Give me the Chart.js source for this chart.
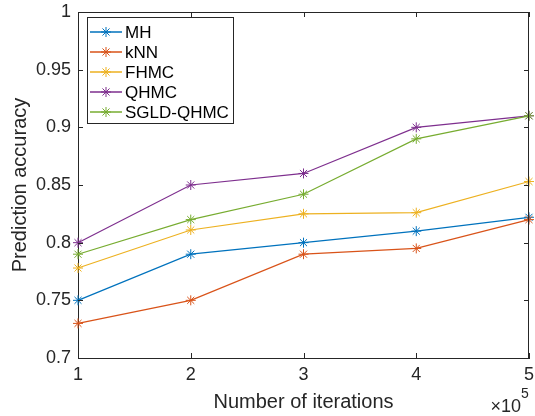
<!DOCTYPE html>
<html>
<head>
<meta charset="utf-8">
<script src="https://cdn.jsdelivr.net/npm/chart.js@4"></script>
<style>
  html, body { margin: 0; padding: 0; background: #fff; }
  canvas { display: block; }
</style>
</head>
<body>
<canvas id="chart" width="535" height="416"></canvas>
<script>
// x positions, in units of 1e5 iterations
const iterations = ['1', '2', '3', '4', '5'];
const yTicks = [0.7, 0.75, 0.8, 0.85, 0.9, 0.95, 1];

const seriesNames = ['MH', 'kNN', 'FHMC', 'QHMC', 'SGLD-QHMC'];
const mhAcc   = [0.750, 0.790, 0.800, 0.810, 0.822];
const knnAcc  = [0.730, 0.750, 0.790, 0.795, 0.820];
const fhmcAcc = [0.778, 0.811, 0.825, 0.826, 0.853];
const qhmcAcc = [0.800, 0.850, 0.860, 0.900, 0.910];
const sgldAcc = [0.790, 0.820, 0.842, 0.890, 0.910];

// MATLAB default line colours
const colors = ['#0072BD', '#D95319', '#EDB120', '#7E2F8E', '#77AC30'];
const allSeries = [mhAcc, knnAcc, fhmcAcc, qhmcAcc, sgldAcc];

const AXIS = '#262626';
const FONT = '"Liberation Sans", Arial, Helvetica, sans-serif';

Chart.defaults.font.family = FONT;
Chart.defaults.color = AXIS;

const datasets = allSeries.map((vals, i) => ({
  label: seriesNames[i],
  data: vals,
  borderColor: colors[i],
  backgroundColor: colors[i],
  borderWidth: 1.2,
  pointStyle: 'star',
  pointRadius: 5,
  pointBorderWidth: 1,
  pointBorderColor: colors[i],
  tension: 0,
  clip: false,
  order: allSeries.length - i   // later series on top, like MATLAB
}));

// inward ticks on all four sides + top/right box lines, legend inside the axes
const matlabAxes = {
  id: 'matlabAxes',
  afterDatasetsDraw(chart) {
    const { ctx, chartArea: a, scales } = chart;
    const tl = 5;
    ctx.save();
    ctx.strokeStyle = AXIS;
    ctx.lineWidth = 1;
    ctx.beginPath();
    // box
    ctx.moveTo(a.left, a.top + 0.5);
    ctx.lineTo(a.right, a.top + 0.5);
    ctx.moveTo(a.right - 0.5, a.top);
    ctx.lineTo(a.right - 0.5, a.bottom);
    iterations.forEach((_, i) => {
      const x = Math.round(scales.x.getPixelForValue(i)) + 0.5;
      ctx.moveTo(x, a.bottom); ctx.lineTo(x, a.bottom - tl);
      ctx.moveTo(x, a.top); ctx.lineTo(x, a.top + tl);
    });
    yTicks.forEach(v => {
      const y = Math.round(scales.y.getPixelForValue(v)) + 0.5;
      ctx.moveTo(a.left, y); ctx.lineTo(a.left + tl, y);
      ctx.moveTo(a.right, y); ctx.lineTo(a.right - tl, y);
    });
    ctx.stroke();

    // legend box
    const lx = 87, ly = 17, lw = 146, lh = 106;
    ctx.fillStyle = '#fff';
    ctx.fillRect(lx, ly, lw, lh);
    ctx.strokeRect(lx + 0.5, ly + 0.5, lw, lh);
    ctx.font = '17px ' + FONT;
    ctx.textBaseline = 'middle';
    ctx.textAlign = 'left';
    seriesNames.forEach((name, i) => {
      const y = 32 + i * 20;
      ctx.strokeStyle = colors[i];
      ctx.lineWidth = 1.5;
      ctx.beginPath();
      ctx.moveTo(lx + 3, y); ctx.lineTo(lx + 35, y);
      ctx.stroke();
      ctx.strokeStyle = colors[i];
      ctx.lineWidth = 1;
      Chart.helpers.drawPoint(ctx, { pointStyle: 'star', radius: 5, borderWidth: 1 }, lx + 19, y);
      ctx.fillStyle = '#000';
      ctx.fillText(name, lx + 38, y + 1);
    });

    // x10^5 exponent label
    ctx.fillStyle = AXIS;
    ctx.textBaseline = 'alphabetic';
    ctx.textAlign = 'right';
    ctx.font = '18px ' + FONT;
    ctx.fillText('\u00d710', 521, 412);
    ctx.textAlign = 'left';
    ctx.font = '14px ' + FONT;
    ctx.fillText('5', 521, 398);
    ctx.restore();
  }
};

new Chart(document.getElementById('chart'), {
  type: 'line',
  data: { labels: iterations, datasets },
  options: {
    responsive: false,
    animation: false,
    layout: { padding: { top: 12, right: 2, left: 0, bottom: 0 } },
    plugins: { legend: { display: false }, tooltip: { enabled: false } },
    scales: {
      x: {
        offset: false,
        grid: { display: true, drawOnChartArea: false, drawTicks: false },
        border: { display: true, color: AXIS, width: 1 },
        ticks: { color: AXIS, font: { size: 18 }, padding: 6, maxRotation: 0 },
        title: { display: true, text: 'Number of iterations', color: AXIS,
                 font: { size: 20 }, padding: { top: 0, bottom: 2 } },
        afterFit: s => { s.height = 58; s.paddingLeft = 0; s.paddingRight = 0; }
      },
      y: {
        min: 0.7,
        max: 1,
        afterBuildTicks: s => { s.ticks = yTicks.map(v => ({ value: v })); },
        grid: { display: true, drawOnChartArea: false, drawTicks: false },
        border: { display: true, color: AXIS, width: 1 },
        ticks: { color: AXIS, font: { size: 18 }, padding: 7,
                 callback: v => String(+v.toFixed(2)) },
        title: { display: true, text: 'Prediction accuracy', color: AXIS,
                 font: { size: 20 }, padding: { top: 8, bottom: 0 } },
        afterFit: s => { s.width = 78; s.paddingTop = 0; s.paddingBottom = 0; }
      }
    }
  },
  plugins: [matlabAxes]
});
</script>
</body>
</html>
